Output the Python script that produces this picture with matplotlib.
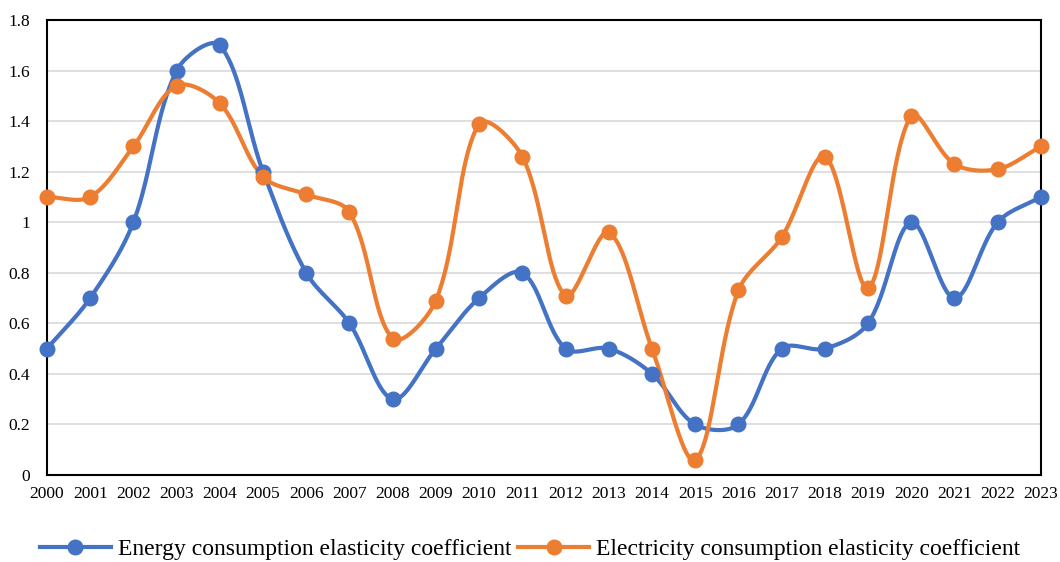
import numpy as np
import matplotlib.pyplot as plt
from matplotlib.lines import Line2D

years = list(range(2000, 2024))
energy = [0.5, 0.7, 1.0, 1.6, 1.7, 1.2, 0.8, 0.6, 0.3, 0.5, 0.7, 0.8,
          0.5, 0.5, 0.4, 0.2, 0.2, 0.5, 0.5, 0.6, 1.0, 0.7, 1.0, 1.1]
electricity = [1.1, 1.1, 1.3, 1.54, 1.47, 1.18, 1.11, 1.04, 0.54, 0.69, 1.39, 1.26,
               0.71, 0.96, 0.5, 0.06, 0.73, 0.94, 1.26, 0.74, 1.42, 1.23, 1.21, 1.3]

blue = '#4472C4'
orange = '#ED7D31'

# pixel scale of the axes, used so the smoothing behaves like on screen
SX, SY = 43.2, 252.8


def smooth(x, y, n=40):
    # Excel-like smoothed line: bezier with chord-weighted tangents
    P = np.column_stack([np.asarray(x, float) * SX, np.asarray(y, float) * SY])
    m = len(P)
    d = np.linalg.norm(np.diff(P, axis=0), axis=1)
    cout, cin = np.zeros_like(P), np.zeros_like(P)
    for i in range(m):
        a = P[max(i - 1, 0)]
        b = P[min(i + 1, m - 1)]
        dp = d[i - 1] if i > 0 else 0.0
        dn = d[i] if i < m - 1 else 0.0
        tot = dp + dn
        cout[i] = P[i] + (b - a) * (dn / tot) / 3
        cin[i] = P[i] - (b - a) * (dp / tot) / 3
    t = np.linspace(0, 1, n)[:, None]
    pts = []
    for i in range(m - 1):
        b = (1 - t) ** 3 * P[i] + 3 * (1 - t) ** 2 * t * cout[i] \
            + 3 * (1 - t) * t ** 2 * cin[i + 1] + t ** 3 * P[i + 1]
        pts.append(b)
    pts = np.vstack(pts)
    return pts[:, 0] / SX, pts[:, 1] / SY


plt.rcParams['font.family'] = ['Liberation Serif', 'DejaVu Serif']

fig = plt.figure(figsize=(10.6, 5.62), dpi=100)
ax = fig.add_axes([0.0443, 0.1548, 0.9377, 0.8096])

idx = np.arange(len(years))
for data, c in [(energy, blue), (electricity, orange)]:
    sx, sy = smooth(idx, data)
    ax.plot(sx, sy, color=c, lw=3, solid_capstyle='round', zorder=3, clip_on=False)
    ax.plot(idx, data, 'o', color=c, ms=10.5, zorder=4, clip_on=False)

ax.set_xlim(0, len(years) - 1)
ax.set_ylim(0, 1.8)
ax.set_xticks(idx)
ax.set_xticklabels([str(y) for y in years])
yt = np.arange(0, 1.81, 0.2)
ax.set_yticks(yt)
ax.set_yticklabels(['0', '0.2', '0.4', '0.6', '0.8', '1', '1.2', '1.4', '1.6', '1.8'])
ax.tick_params(axis='both', length=0, labelsize=12.5, colors='black')
ax.tick_params(axis='x', pad=8)
ax.tick_params(axis='y', pad=12)
ax.grid(axis='y', color='#D9D9D9', lw=1.2)
ax.set_axisbelow(True)
for s in ax.spines.values():
    s.set_color('black')
    s.set_linewidth(1.5)

handles = [Line2D([], [], color=blue, lw=3, marker='o', ms=10.5),
           Line2D([], [], color=orange, lw=3, marker='o', ms=10.5)]
fig.legend(handles, ['Energy consumption elasticity coefficient',
                     'Electricity consumption elasticity coefficient'],
           loc='lower center', bbox_to_anchor=(0.5, -0.035), ncol=2, frameon=False,
           fontsize=17, handlelength=3, columnspacing=0.3, handletextpad=0.3)

fig.savefig('out.png', dpi=100)
